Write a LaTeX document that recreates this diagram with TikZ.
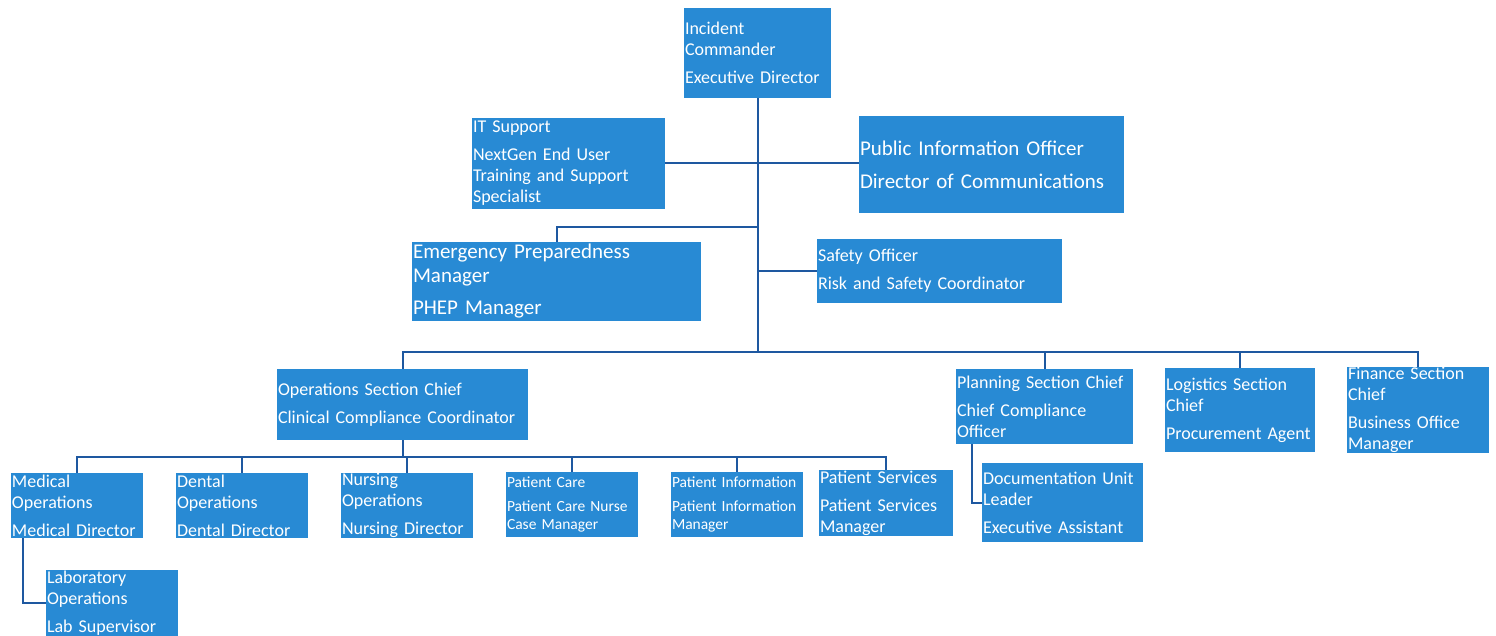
\documentclass[tikz,border=0pt]{standalone}
\usepackage{fontspec}
\setmainfont{Carlito}
\definecolor{boxblue}{RGB}{40,138,212}
\definecolor{lineblue}{RGB}{30,88,160}
\begin{document}
\begin{tikzpicture}[x=1pt,y=-1pt,
  orgbox/.style={fill=boxblue, text=white, inner xsep=1pt, inner ysep=0pt, align=left,
    font=\fontsize{18}{21}\selectfont},
  conn/.style={draw=lineblue, line width=2pt},
  sm/.style={font=\fontsize{15.5}{18}\selectfont},
  lg/.style={font=\fontsize{21}{24}\selectfont}]
\useasboundingbox (0,0) rectangle (1496,636);
\fill[white] (0,0) rectangle (1496,636);

% boxes
\node[orgbox, minimum width=147, minimum height=90, text width=145] (ic) at (757.5,53)
  {Incident\\Commander\\[7pt]Executive Director};
\node[orgbox, minimum width=193, minimum height=91, text width=191] (it) at (568.5,163.5)
  {IT Support\\[7pt]NextGen End User\\Training and Support\\Specialist};
\node[orgbox, lg, minimum width=265, minimum height=97, text width=263] (pio) at (991.5,164.5)
  {Public Information Officer\\[9pt]Director of Communications};
\node[orgbox, lg, minimum width=289, minimum height=79, text width=287] (epm) at (556.5,281.5)
  {Emergency Preparedness\\Manager\\[8pt]PHEP Manager};
\node[orgbox, minimum width=245, minimum height=64, text width=243] (saf) at (939.5,271)
  {Safety Officer\\[7pt]Risk and Safety Coordinator};
\node[orgbox, minimum width=251, minimum height=71, text width=249] (ops) at (402.5,404.5)
  {Operations Section Chief\\[7pt]Clinical Compliance Coordinator};
\node[orgbox, minimum width=177, minimum height=75, text width=175] (pln) at (1044.5,406.5)
  {Planning Section Chief\\[7pt]Chief Compliance\\Officer};
\node[orgbox, minimum width=150, minimum height=84, text width=148] (log) at (1240,410)
  {Logistics Section\\Chief\\[7pt]Procurement Agent};
\node[orgbox, minimum width=142, minimum height=86, text width=140] (fin) at (1418,410)
  {Finance Section\\Chief\\[7pt]Business Office\\Manager};
\node[orgbox, minimum width=132, minimum height=65, text width=130] (med) at (77,505.5)
  {Medical\\Operations\\[7pt]Medical Director};
\node[orgbox, minimum width=132, minimum height=65, text width=130] (den) at (242,505.5)
  {Dental\\Operations\\[7pt]Dental Director};
\node[orgbox, minimum width=132, minimum height=65, text width=130] (nur) at (407,505.5)
  {Nursing\\Operations\\[7pt]Nursing Director};
\node[orgbox, sm, minimum width=132, minimum height=65, text width=130] (pc) at (572,504.5)
  {Patient Care\\[6pt]Patient Care Nurse\\Case Manager};
\node[orgbox, sm, minimum width=132, minimum height=65, text width=130] (pi) at (737,504.5)
  {Patient Information\\[6pt]Patient Information\\Manager};
\node[orgbox, minimum width=134, minimum height=66, text width=132] (ps) at (886,503)
  {Patient Services\\[7pt]Patient Services\\Manager};
\node[orgbox, minimum width=161, minimum height=79, text width=159] (doc) at (1062.5,502.5)
  {Documentation Unit\\Leader\\[7pt]Executive Assistant};
\node[orgbox, minimum width=132, minimum height=66, text width=130] (lab) at (112,603)
  {Laboratory\\Operations\\[7pt]Lab Supervisor};

% junction coordinates
\coordinate (bus) at (0,352);
\coordinate (sub) at (0,457);
\coordinate (tepm) at (0,227);

% connectors
\draw[conn] (ic.south) -- (ic.south |- bus);
\draw[conn] (it.east) -- (it.east -| pio.west);
\draw[conn] (epm.north) |- (ic.south |- tepm);
\draw[conn] (saf.west) -- (saf.west -| ic.south);
\draw[conn] (ops.north) |- (fin.north |- bus) -- (fin.north);
\draw[conn] (pln.north) -- (pln.north |- bus);
\draw[conn] (log.north) -- (log.north |- bus);
\draw[conn] (ops.south) -- (ops.south |- sub);
\draw[conn] (med.north) |- (ps.north |- sub) -- (ps.north);
\draw[conn] (den.north) -- (den.north |- sub);
\draw[conn] (nur.north) -- (nur.north |- sub);
\draw[conn] (pc.north) -- (pc.north |- sub);
\draw[conn] (pi.north) -- (pi.north |- sub);
\draw[conn] ([xshift=12pt]med.south west) |- (lab.west);
\draw[conn] ([xshift=16pt]pln.south west) |- (doc.west);
\end{tikzpicture}
\end{document}
